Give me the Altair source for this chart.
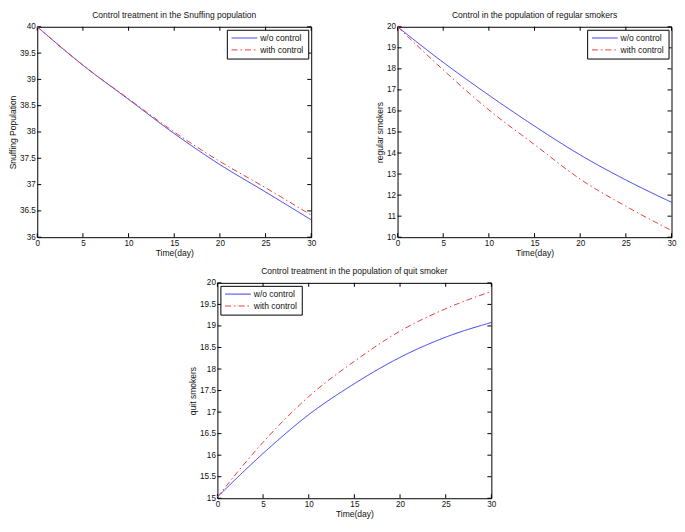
import altair as alt
import pandas as pd

# ---- data ----
days = [0, 5, 10, 15, 20, 25, 30]
series = ["w/o control", "with control"]

snuff_wo = [40.0, 39.27, 38.62, 37.97, 37.38, 36.86, 36.33]
snuff_with = [40.0, 39.27, 38.63, 38.00, 37.44, 36.94, 36.42]

regular_wo = [20.0, 18.31, 16.75, 15.28, 13.91, 12.72, 11.66]
regular_with = [20.0, 17.95, 16.05, 14.40, 12.76, 11.47, 10.32]

quit_wo = [15.03, 16.04, 16.94, 17.66, 18.27, 18.74, 19.08]
quit_with = [15.03, 16.30, 17.36, 18.18, 18.88, 19.40, 19.80]

x_ticks = [0, 5, 10, 15, 20, 25, 30]
snuff_ticks = [36, 36.5, 37, 37.5, 38, 38.5, 39, 39.5, 40]
regular_ticks = [10, 11, 12, 13, 14, 15, 16, 17, 18, 19, 20]
quit_ticks = [15, 15.5, 16, 16.5, 17, 17.5, 18, 18.5, 19, 19.5, 20]

colors = ["#3434f0", "#ee3b3b"]
dashes = [[1, 0], [6, 3, 1.5, 3]]

W = 276
H_TOP, H_BOT = 212, 217
FONT = "Liberation Sans"
TXT = 8.6
TICKTXT = 8.2
TICK = 4
# legend line symbol: a horizontal stroke drawn as a custom symbol path
LEG_SYMBOL = "M-1,0H6.4"


def panel(title, wo, wi, ylab, ydom, yticks, legend_orient, H):
    df = pd.DataFrame({
        "t": days + days,
        "v": wo + wi,
        "s": [series[0]] * len(days) + [series[1]] * len(days),
    })
    x_axis = alt.Axis(values=x_ticks, title="Time(day)", ticks=False,
                      domain=False, grid=False, labelFlush=False,
                      labelPadding=2, titlePadding=2)
    y_axis = alt.Axis(values=yticks, title=ylab, ticks=False, format="~g",
                      domain=False, grid=False, labelFlush=False,
                      labelPadding=2, titlePadding=2)
    xs = alt.Scale(domain=[0, 30], nice=False)
    ys = alt.Scale(domain=ydom, nice=False, zero=False)
    leg = alt.Legend(
        title=None, orient=legend_orient, offset=3,
        strokeColor="black", fillColor="white", padding=4,
        symbolType=LEG_SYMBOL, symbolSize=49, symbolStrokeWidth=1,
        labelFontSize=TXT, labelColor="#111", labelFont=FONT,
        rowPadding=3, labelOffset=21,
    )
    lines = alt.Chart(df).mark_line(strokeWidth=1, interpolate="monotone").encode(
        x=alt.X("t:Q", scale=xs, axis=x_axis),
        y=alt.Y("v:Q", scale=ys, axis=y_axis),
        color=alt.Color("s:N", scale=alt.Scale(domain=series, range=colors), legend=leg),
        strokeDash=alt.StrokeDash("s:N", scale=alt.Scale(domain=series, range=dashes), legend=leg),
    )
    xt = pd.DataFrame({"t": x_ticks})
    yt = pd.DataFrame({"v": yticks})
    bottom = alt.Chart(xt).mark_rule(color="black", strokeWidth=1).encode(
        x=alt.X("t:Q", scale=xs, axis=x_axis), y=alt.value(H), y2=alt.value(H - TICK))
    top = alt.Chart(xt).mark_rule(color="black", strokeWidth=1).encode(
        x=alt.X("t:Q", scale=xs, axis=x_axis), y=alt.value(0), y2=alt.value(TICK))
    left = alt.Chart(yt).mark_rule(color="black", strokeWidth=1).encode(
        y=alt.Y("v:Q", scale=ys, axis=y_axis), x=alt.value(0), x2=alt.value(TICK))
    right = alt.Chart(yt).mark_rule(color="black", strokeWidth=1).encode(
        y=alt.Y("v:Q", scale=ys, axis=y_axis), x=alt.value(W), x2=alt.value(W - TICK))
    return alt.layer(bottom, top, left, right, lines).properties(
        width=W, height=H,
        title=alt.Title(title, fontSize=TXT, fontWeight="normal", font=FONT,
                        color="#111", offset=2),
    )


p1 = panel("Control treatment in the Snuffing population", snuff_wo, snuff_with,
           "Snuffing Population", [36, 40], snuff_ticks, "top-right", H_TOP)
p2 = panel("Control in the population of regular smokers", regular_wo, regular_with,
           "regular smokers", [10, 20], regular_ticks, "top-right", H_TOP)
p3 = panel("Control treatment in the population of quit smoker", quit_wo, quit_with,
           "quit smokers", [15, 20], quit_ticks, "top-left", H_BOT)

top_row = alt.hconcat(p1, p2, spacing=58).resolve_scale(
    color="independent", strokeDash="independent")
chart = alt.vconcat(top_row, p3, spacing=8, center=True).resolve_scale(
    color="independent", strokeDash="independent"
).properties(
    padding={"left": 0, "top": 0, "right": 0, "bottom": 0}
).configure(font=FONT).configure_view(
    stroke="black", strokeWidth=1
).configure_axis(
    labelFont=FONT, labelFontSize=TICKTXT, labelColor="#111",
    titleFont=FONT, titleFontSize=TXT, titleColor="#111", titleFontWeight="normal",
)

chart.save("out.html", embed_options={"renderer": "svg", "actions": False})
